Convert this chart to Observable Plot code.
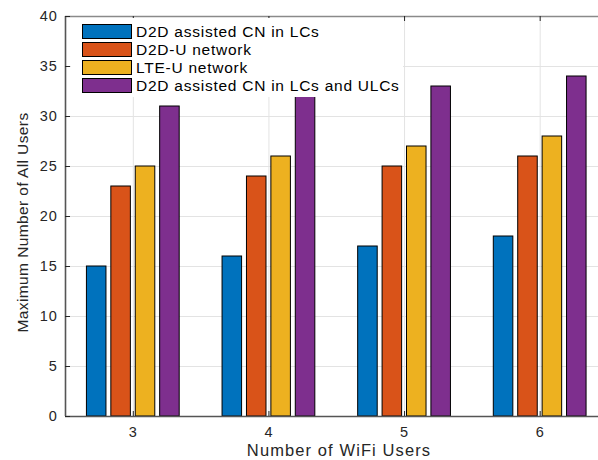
<!DOCTYPE html>
<html>
<head>
<meta charset="utf-8">
<script src="https://cdn.jsdelivr.net/npm/d3@7"></script>
<script src="https://cdn.jsdelivr.net/npm/@observablehq/plot@0.6"></script>
<style>
  html, body { margin: 0; padding: 0; background: #fff; overflow: hidden; }
  #wrap { position: relative; width: 598px; height: 460px; font-family: "Liberation Sans", Arial, sans-serif; }
  #legend { position: absolute; left: 71px; top: 18px; width: 332px; height: 79px; background: #fff; }
  .row { position: absolute; left: 11px; height: 15px; display: flex; align-items: center; }
  .sw { width: 48px; height: 13px; border: 1px solid #000; box-sizing: content-box; }
  .lab { margin-left: 4px; font-size: 15.5px; letter-spacing: 0.75px; color: #000; white-space: nowrap; }
</style>
</head>
<body>
<div id="wrap"></div>
<script>
const groups = [3, 4, 5, 6];
const seriesNames = [
  "D2D assisted CN in LCs",
  "D2D-U network",
  "LTE-U network",
  "D2D assisted CN in LCs and ULCs"
];
const seriesColors = ["#0072BD", "#D95319", "#EDB120", "#7E2F8E"];
const valuesLCs = [15, 16, 17, 18];
const valuesD2DU = [23, 24, 25, 26];
const valuesLTEU = [25, 26, 27, 28];
const valuesLCsULCs = [31, 32, 33, 34];
const yTicks = [0, 5, 10, 15, 20, 25, 30, 35, 40];
const xTickLabels = ["3", "4", "5", "6"];
const xTitle = "Number of WiFi Users";
const yTitle = "Maximum Number of All Users";

const allValues = [valuesLCs, valuesD2DU, valuesLTEU, valuesLCsULCs];
const nS = seriesNames.length;
const pitch = 0.18, barW = 0.144;
const bars = [];
allValues.forEach((vals, s) => {
  vals.forEach((v, g) => {
    const c = groups[g] + (s - (nS - 1) / 2) * pitch;
    bars.push({series: seriesNames[s], x1: c - barW / 2, x2: c + barW / 2, value: v});
  });
});

const axisColor = "#262626";
const chart = Plot.plot({
  width: 598,
  height: 460,
  marginLeft: 65,
  marginRight: 0,
  marginTop: 16,
  marginBottom: 44,
  style: {fontFamily: "'Liberation Sans', Arial, sans-serif", fontSize: "14px", color: axisColor, background: "#fff"},
  x: {type: "linear", domain: [2.5, 6.43]},
  y: {domain: [0, 40]},
  color: {domain: seriesNames, range: seriesColors},
  marks: [
    Plot.ruleY(yTicks, {stroke: "#e3e3e3", strokeWidth: 1}),
    Plot.ruleX(groups, {stroke: "#e3e3e3", strokeWidth: 1}),
    Plot.rectY(bars, {x1: "x1", x2: "x2", y1: 0, y2: "value", fill: "series", stroke: "#000", strokeWidth: 1}),
    // axes box
    Plot.ruleY([40], {stroke: "#8a8a8a", strokeWidth: 1.4}),
    Plot.ruleY([0], {stroke: "#555", strokeWidth: 1.6}),
    Plot.ruleX([2.5], {stroke: "#555", strokeWidth: 1.6}),
    // inward ticks
    Plot.ruleY(yTicks, {x1: 2.5, x2: 2.537, stroke: axisColor, strokeWidth: 1}),
    Plot.ruleX(groups, {y1: 0, y2: 0.5, stroke: axisColor, strokeWidth: 1}),
    Plot.ruleX(groups, {y1: 39.5, y2: 40, stroke: axisColor, strokeWidth: 1}),
    Plot.axisY({ticks: yTicks, tickSize: 0, tickPadding: 8, label: null, fontSize: 14.5, fill: axisColor}),
    Plot.axisX({ticks: groups, tickFormat: (d, i) => xTickLabels[i], tickSize: 0, tickPadding: 10, label: null, fontSize: 14.5, fill: axisColor}),
    Plot.text([xTitle], {frameAnchor: "bottom", textAnchor: "middle", dx: 7, dy: 39, fontSize: 16.5, fill: axisColor}),
    Plot.text([yTitle], {frameAnchor: "left", textAnchor: "middle", rotate: -90, dx: -42, dy: 6, fontSize: 15.5, fill: axisColor})
  ]
});

d3.select(chart).selectAll("text").each(function() {
  const t = d3.select(this).text();
  if (t === xTitle) d3.select(this).attr("letter-spacing", "1.1px");
  else if (t === yTitle) d3.select(this).attr("letter-spacing", "0.4px");
  else d3.select(this).attr("letter-spacing", "0.8px");
});

const wrap = document.getElementById("wrap");
wrap.appendChild(chart);

const legend = document.createElement("div");
legend.id = "legend";
seriesNames.forEach((name, i) => {
  const row = document.createElement("div");
  row.className = "row";
  row.style.top = (6 + i * 18) + "px";
  const sw = document.createElement("div");
  sw.className = "sw";
  sw.style.background = seriesColors[i];
  const lab = document.createElement("span");
  lab.className = "lab";
  lab.textContent = name;
  row.appendChild(sw);
  row.appendChild(lab);
  legend.appendChild(row);
});
wrap.appendChild(legend);
</script>
</body>
</html>
